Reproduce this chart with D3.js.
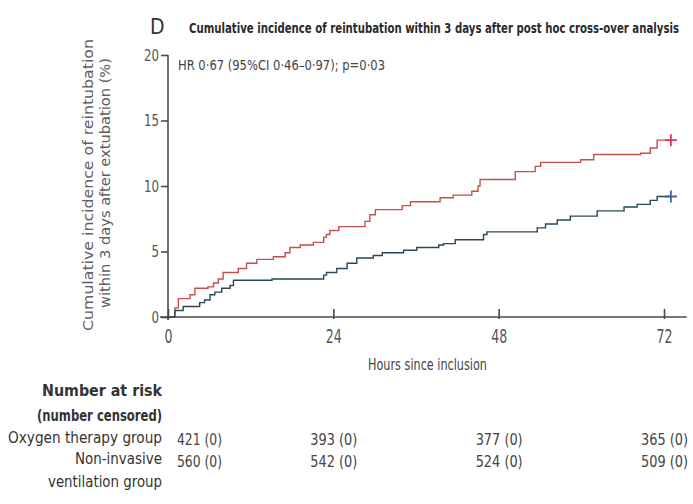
<!DOCTYPE html>
<html><head><meta charset="utf-8">
<script src="https://cdn.jsdelivr.net/npm/d3@7"></script>
<style>
body{margin:0;background:#fff;}
svg text{font-family:'Liberation Sans Narrow','DejaVu Sans Condensed','Open Sans',sans-serif;}
</style></head>
<body><svg id="c" width="693" height="504"></svg>
<script>
// ---- data ----
const oxygenTime = [0,1.0,1.5,3.2,3.9,5.8,6.6,7.3,8.0,10.2,11.4,12.9,15.3,17.0,17.7,19.2,21.1,22.6,23.0,23.5,24.8,28.6,29.3,30.1,34.0,35.2,39.5,41.4,44.1,45.0,45.3,50.4,53.3,54.1,59.9,61.8,68.6,70.0,71.0,73.0];
const oxygenValue = [0,0.7,1.4,1.7,2.2,2.3,2.6,2.9,3.4,3.7,4.1,4.4,4.6,4.9,5.3,5.5,5.7,6.1,6.3,6.6,6.9,7.3,7.8,8.2,8.5,8.8,9.1,9.3,9.6,10.0,10.5,11.1,11.5,11.8,12.0,12.4,12.5,12.9,13.5,13.5];
const nivTime = [0,1.0,2.2,4.6,5.3,6.1,6.8,7.8,9.0,9.5,15.1,22.6,23.0,24.5,26.0,27.4,29.8,31.1,34.2,36.1,39.3,40.0,41.7,45.8,46.3,53.6,54.8,56.5,58.4,62.3,66.2,68.1,70.0,71.0,73.0];
const nivValue = [0,0.5,0.8,1.1,1.3,1.7,1.9,2.2,2.4,2.8,2.9,3.2,3.4,3.7,4.1,4.5,4.7,4.9,5.1,5.3,5.5,5.6,5.9,6.3,6.5,6.8,7.1,7.4,7.7,8.1,8.4,8.6,8.9,9.2,9.2];
const xTicks = [0,24,48,72];
const yTicks = [0,5,10,15,20];
const atRiskOxygen = ["421 (0)","393 (0)","377 (0)","365 (0)"];
const atRiskNiv = ["560 (0)","542 (0)","524 (0)","509 (0)"];
const title = "Cumulative incidence of reintubation within 3 days after post hoc cross-over analysis";
const hrText = "HR 0·67 (95%CI 0·46–0·97); p=0·03";

// ---- scales ----
const svg = d3.select("#c");
const x = d3.scaleLinear().domain([0,72]).range([168,664]);
const y = d3.scaleLinear().domain([0,20]).range([317,55]);
const axisCol = "#4a4a4a", textCol = "#555";

function fit(sel, len){ sel.attr("textLength", len).attr("lengthAdjust","spacingAndGlyphs"); return sel; }

// title
svg.append("text").attr("x",150).attr("y",34).attr("font-size",21).attr("fill","#333").text("D");
fit(svg.append("text").attr("transform","translate(189,33) scale(1,1.35)").attr("font-size",10.5)
  .attr("font-weight",600).attr("fill","#2a2a2a").text(title),490);

// y axis
const gy = svg.append("g").attr("transform",`translate(${x(0)},0)`)
  .call(d3.axisLeft(y).tickValues(yTicks).tickSize(7).tickPadding(2));
gy.select(".domain").attr("stroke",axisCol).attr("stroke-width",1.6).attr("d",`M0,${y(20)}V${y(0)+3}`);
gy.selectAll(".tick line").attr("stroke",axisCol).attr("stroke-width",1.6);
gy.selectAll(".tick text").attr("font-size",16).attr("fill",textCol)
  .each(function(d){ fit(d3.select(this), String(d).length*7.5); });

// x axis
const gx = svg.append("g").attr("transform",`translate(0,${y(0)})`)
  .call(d3.axisBottom(x).tickValues(xTicks).tickSize(-8).tickPadding(14));
gx.select(".domain").attr("stroke",axisCol).attr("stroke-width",1.6).attr("d",`M${x(0)-8},0H${x(75.3)}`);
gx.selectAll(".tick line").attr("stroke",axisCol).attr("stroke-width",1.6).attr("y2",-8).attr("y1",2);
gx.selectAll(".tick text").attr("font-size",20).attr("fill",textCol).attr("dy","0.6em")
  .each(function(d){ fit(d3.select(this), String(d).length*8); });

// HR text
fit(svg.append("text").attr("x",178).attr("y",70).attr("font-size",14).attr("fill","#444").text(hrText),207);

// y label
const yl = svg.append("g");
fit(yl.append("text").attr("transform","translate(93,185) rotate(-90)").attr("text-anchor","middle")
  .attr("font-size",14).attr("fill","#606060").text("Cumulative incidence of reintubation"),292);
fit(yl.append("text").attr("transform","translate(110,183) rotate(-90)").attr("text-anchor","middle")
  .attr("font-size",14).attr("fill","#606060").text("within 3 days after extubation (%)"),250);

// x label
fit(svg.append("text").attr("x",368).attr("y",370).attr("font-size",15).attr("fill","#444").text("Hours since inclusion"),119);

// curves
const line = d3.line().x(d=>x(d[0])).y(d=>y(d[1])).curve(d3.curveStepAfter);
const series = [
  {t:oxygenTime, v:oxygenValue, col:"#c4504b", mark:"#e0364f"},
  {t:nivTime, v:nivValue, col:"#2c4756", mark:"#3f62a6"}
];
series.forEach(s=>{
  const pts = s.t.map((t,i)=>[t,s.v[i]]);
  svg.append("path").datum(pts).attr("d",line).attr("fill","none").attr("stroke",s.col).attr("stroke-width",1.4);
  const last = pts[pts.length-1];
  const cx = x(last[0]), cy = y(last[1]);
  svg.append("path").attr("d",`M${cx-6},${cy}H${cx+6}M${cx},${cy-6}V${cy+6}`).attr("stroke",s.mark).attr("stroke-width",1.8);
});

// number at risk table
const lab = [
  {t:"Number at risk", y:396, w:120, b:600},
  {t:"(number censored)", y:421, w:125, b:600},
  {t:"Oxygen therapy group", y:443, w:154, b:400},
  {t:"Non-invasive", y:464, w:87, b:400},
  {t:"ventilation group", y:487, w:114, b:400}
];
lab.forEach(l=>{
  fit(svg.append("text").attr("x",162-l.w).attr("y",l.y).attr("font-size",15).attr("font-weight",l.b).attr("fill","#333").text(l.t),l.w);
});
[[atRiskOxygen,445],[atRiskNiv,467]].forEach(([arr,yy])=>{
  arr.forEach((s,i)=>{
    const t = svg.append("text").attr("y",yy).attr("font-size",15).attr("fill","#444").text(s);
    if(i===0){ t.attr("x",177); fit(t,45); }
    else { t.attr("x",x(xTicks[i])-23); fit(t,47); }
  });
});
</script></body></html>
